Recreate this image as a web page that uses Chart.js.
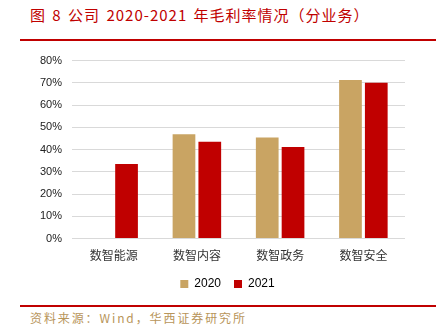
<!DOCTYPE html>
<html>
<head>
<meta charset="utf-8">
<script src="https://cdn.jsdelivr.net/npm/chart.js@4/dist/chart.umd.min.js"></script>
<style>
  html, body { margin: 0; padding: 0; background: #fff; width: 438px; height: 325px; overflow: hidden; }
  .title { position: absolute; left: 30px; top: 4px; font-family: "Noto Sans CJK SC", sans-serif; font-size: 15px; color: #c00000; letter-spacing: 1px; word-spacing: 2px; }
  .rule { position: absolute; left: 20px; width: 416px; height: 2px; background: #c00000; }
  .source { position: absolute; left: 30px; top: 309px; font-family: "Noto Sans CJK SC", sans-serif; font-size: 12px; color: #b8955a; letter-spacing: 1.9px; }
  #wrap { position: absolute; left: 0; top: 44px; width: 405px; height: 256px; }
</style>
</head>
<body>
<div class="title">图 8 公司 2020-2021 年毛利率情况（分业务）</div>
<div class="rule" style="top:39px"></div>
<div id="wrap"><canvas id="c"></canvas></div>
<div class="rule" style="top:305px"></div>
<div class="source">资料来源：Wind，华西证券研究所</div>
<script>
const categories = ['数智能源', '数智内容', '数智政务', '数智安全'];
const seriesNames = ['2020', '2021'];
const values2020 = [null, 46.9, 45.4, 71.3];
const values2021 = [33.5, 43.5, 41.2, 70.0];
const yTicks = [0, 10, 20, 30, 40, 50, 60, 70, 80];

// the legend sits a bit right of centre in the original
const nudgeLegend = {
  id: 'nudgeLegend',
  afterLayout(chart) {
    const lg = chart.legend;
    if (lg) { lg.left += 10; lg.right += 10; }
  },
};

const ctx = document.getElementById('c').getContext('2d');
new Chart(ctx, {
  type: 'bar',
  data: {
    labels: categories,
    datasets: [
      { label: seriesNames[0], data: values2020, backgroundColor: '#c9a463' },
      { label: seriesNames[1], data: values2021, backgroundColor: '#c00000' },
    ],
  },
  options: {
    responsive: true, maintainAspectRatio: false, animation: false,
    datasets: { bar: { categoryPercentage: 0.62, barPercentage: 0.88 } },
    layout: { padding: { left: 30, right: 0, top: 0, bottom: 0 } },
    plugins: {
      legend: {
        position: 'bottom',
        labels: { boxWidth: 8, boxHeight: 8, padding: 13, color: '#000', font: { family: 'Liberation Sans, Arial', size: 12 } },
      },
      tooltip: { enabled: false },
    },
    scales: {
      x: {
        grid: { display: false },
        border: { display: false },
        ticks: { color: '#333', padding: 2, font: { family: 'Noto Sans CJK SC', size: 12 } },
      },
      y: {
        min: 0, max: 80,
        afterBuildTicks: axis => { axis.ticks = yTicks.map(v => ({ value: v })); },
        grid: { color: '#d9d9d9', lineWidth: 1, drawTicks: false },
        border: { display: false },
        ticks: { color: '#222', padding: 10, callback: v => v + '%', font: { family: 'Liberation Sans, Arial', size: 11 } },
      },
    },
  },
  plugins: [nudgeLegend],
});
</script>
</body>
</html>
